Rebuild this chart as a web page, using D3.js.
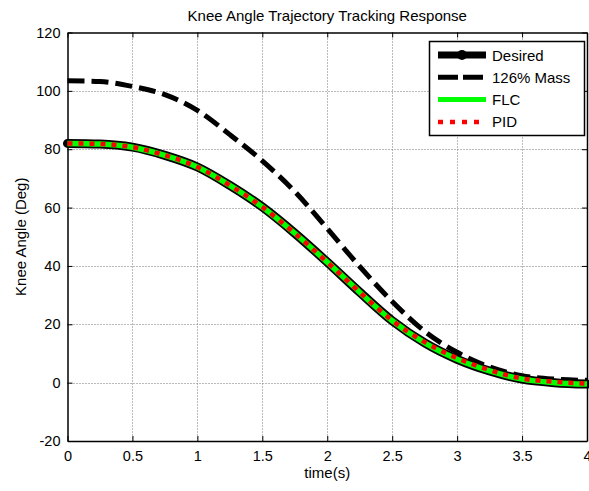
<!DOCTYPE html>
<html lang="en">
<head>
	<meta charset="UTF-8"/>
	<title>Knee Angle Trajectory Tracking Response</title>
	<script src="https://d3js.org/d3.v7.min.js"></script>
	<style>
		body { margin: 0; background: #fff; }
		text { font-family: "Liberation Sans", Arial, sans-serif; fill: #000; }
	</style>
</head>
<body>
	<script>
	// ***Data***
		var time     = [0, 0.25, 0.5, 0.75, 1, 1.25, 1.5, 1.75, 2, 2.25, 2.5, 2.75, 3, 3.25, 3.5, 3.75, 4];
		var desired  = [82, 81.8, 80.7, 77.9, 73.9, 67.6, 60.2, 51.2, 41.3, 31, 21.2, 13.6, 8, 4, 1.2, 0, -0.5];
		var mass126  = [103.5, 103.2, 101.5, 98.7, 93.3, 85, 76, 65.5, 52.8, 39.8, 27.8, 17.6, 10.4, 5.4, 2.4, 1.2, 0.8];
		var flc      = [82, 81.8, 80.7, 77.9, 73.9, 67.6, 60.2, 51.2, 41.3, 31, 21.2, 13.6, 8, 4, 1.2, 0, -0.5];
		var pid      = [82, 81.8, 80.7, 77.9, 73.9, 67.6, 60.2, 51.2, 41.3, 31, 21.3, 13.9, 8.4, 4.3, 1.4, 0.3, -0.3];
		var xTicks   = [0, 0.5, 1, 1.5, 2, 2.5, 3, 3.5, 4];
		var yTicks   = [-20, 0, 20, 40, 60, 80, 100, 120];
		var legendLabels = ["Desired", "126% Mass", "FLC", "PID"];

	// ***Variable declarations***
		var w = 589;
		var h = 491;
		var pLeft = 67.5, pTop = 32.5, pRight = 587, pBottom = 441;

		var xScale = d3.scaleLinear().domain([0, 4]).range([pLeft, pRight]);
		var yScale = d3.scaleLinear().domain([-20, 120]).range([pBottom, pTop]);

		var svg = d3.select("body")
					.append("svg")
					.attr("width", w)
					.attr("height", h);

		// grid
		svg.append("g")
			.selectAll("line")
			.data(xTicks.slice(1, -1))
			.enter()
			.append("line")
			.attr("x1", function(d) { return Math.round(xScale(d)) + 0.5; })
			.attr("x2", function(d) { return Math.round(xScale(d)) + 0.5; })
			.attr("y1", pTop)
			.attr("y2", pBottom)
			.attr("stroke", "#777")
			.attr("stroke-dasharray", "1,2");

		svg.append("g")
			.selectAll("line")
			.data(yTicks.slice(1, -1))
			.enter()
			.append("line")
			.attr("y1", function(d) { return Math.round(yScale(d)) + 0.5; })
			.attr("y2", function(d) { return Math.round(yScale(d)) + 0.5; })
			.attr("x1", pLeft)
			.attr("x2", pRight)
			.attr("stroke", "#777")
			.attr("stroke-dasharray", "1,2");

		// axes (ticks inward, MATLAB style)
		var plain = function(d) { return String(d); };
		var xAxis = d3.axisBottom(xScale).tickValues(xTicks).tickSize(-5).tickSizeOuter(0)
					.tickPadding(10).tickFormat(plain);
		var yAxis = d3.axisLeft(yScale).tickValues(yTicks).tickSize(-5).tickSizeOuter(0)
					.tickPadding(7).tickFormat(plain);

		svg.append("g").attr("transform", "translate(0," + pBottom + ")").call(xAxis);
		svg.append("g").attr("transform", "translate(" + pLeft + ",0)").call(yAxis);
		svg.append("g").attr("transform", "translate(0," + pTop + ")")
			.call(d3.axisTop(xScale).tickValues(xTicks).tickSize(-5).tickSizeOuter(0).tickFormat(""));
		svg.append("g").attr("transform", "translate(" + pRight + ",0)")
			.call(d3.axisRight(yScale).tickValues(yTicks).tickSize(-5).tickSizeOuter(0).tickFormat(""));

		svg.selectAll(".domain").attr("stroke", "#000").attr("stroke-width", 1.5);
		svg.selectAll(".tick line").attr("stroke", "#000");
		svg.selectAll(".tick text").style("font-size", "14.5px").style("font-family", "Liberation Sans, Arial, sans-serif");

		// curves
		var line = function(values) {
			return d3.line()
				.x(function(d, i) { return xScale(time[i]); })
				.y(function(d) { return yScale(d); })
				.curve(d3.curveMonotoneX)(values);
		};

		var plot = svg.append("g");
		plot.append("path").attr("d", line(desired)).attr("fill", "none")
			.attr("stroke", "#000").attr("stroke-width", 9).attr("stroke-linecap", "round");
		plot.append("path").attr("d", line(mass126)).attr("fill", "none")
			.attr("stroke", "#000").attr("stroke-width", 5).attr("stroke-dasharray", "17,7");
		plot.append("path").attr("d", line(flc)).attr("fill", "none")
			.attr("stroke", "#00ff00").attr("stroke-width", 5.5);
		plot.append("path").attr("d", line(pid)).attr("fill", "none")
			.attr("stroke", "#ff0000").attr("stroke-width", 4.5).attr("stroke-dasharray", "5,6");

		// legend
		var lg = svg.append("g");
		lg.append("rect")
			.attr("x", 429.5).attr("y", 41.5).attr("width", 155).attr("height", 94)
			.attr("fill", "#fff").attr("stroke", "#000").attr("stroke-width", 1.5);

		var styles = [
			{ color: "#000", width: 7, dash: null },
			{ color: "#000", width: 5, dash: "20,5" },
			{ color: "#00ff00", width: 5, dash: null },
			{ color: "#ff0000", width: 4.5, dash: "5,7" }
		];
		legendLabels.forEach(function(label, i) {
			var y = 55 + i * 22.3;
			lg.append("line")
				.attr("x1", 438).attr("x2", 486).attr("y1", y).attr("y2", y)
				.attr("stroke", styles[i].color).attr("stroke-width", styles[i].width)
				.attr("stroke-dasharray", styles[i].dash);
			if (i == 0) {
				lg.append("circle").attr("cx", 462).attr("cy", y).attr("r", 5).attr("fill", "#000");
			}
			lg.append("text")
				.attr("x", 492).attr("y", y + 5.5)
				.style("font-size", "15px")
				.text(label);
		});

		// title and labels
		svg.append("text")
			.attr("x", (pLeft + pRight) / 2).attr("y", 21)
			.attr("text-anchor", "middle")
			.style("font-size", "15px")
			.text("Knee Angle Trajectory Tracking Response");

		svg.append("text")
			.attr("x", (pLeft + pRight) / 2).attr("y", 478)
			.attr("text-anchor", "middle")
			.style("font-size", "15px")
			.text("time(s)");

		svg.append("text")
			.attr("transform", "translate(26," + ((pTop + pBottom) / 2) + ") rotate(-90)")
			.attr("text-anchor", "middle")
			.style("font-size", "15px")
			.text("Knee Angle (Deg)");
	</script>
</body>
</html>
